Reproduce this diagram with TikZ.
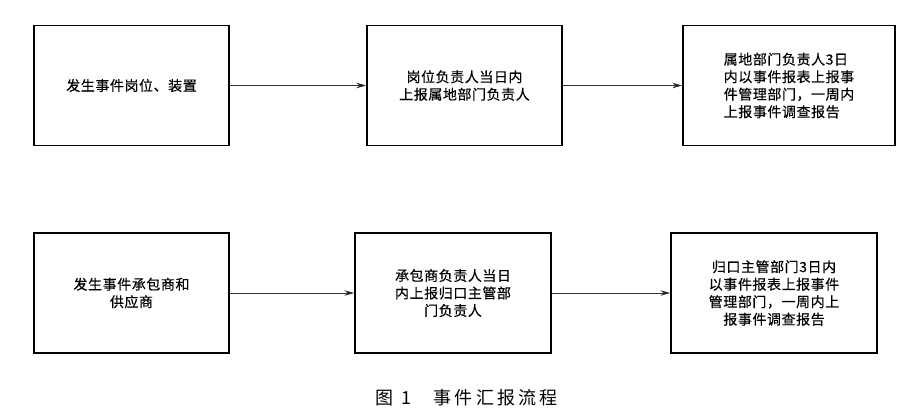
\documentclass[tikz,border=0pt]{standalone}
\usepackage{fontspec}
\setmainfont{Noto Sans CJK SC}
\newfontfamily\boxfont[LetterSpace=4,FakeBold=0.4]{Noto Sans CJK SC}
\newfontfamily\capfont[LetterSpace=18]{Noto Sans CJK SC}
\usetikzlibrary{arrows.meta}
\tikzset{
  flowbox/.style={draw=black, line width=1.4pt, rectangle, inner sep=0pt,
    minimum height=120pt, font=\boxfont\fontsize{14pt}{17.5pt}\selectfont},
  flowarrow/.style={draw=black!80, line width=0.8pt, -{Stealth[length=10pt,width=5.5pt,fill=black]}}
}
\begin{document}
\begin{tikzpicture}[x=1pt,y=-1pt]
\useasboundingbox (0,0) rectangle (905,420);
\node[flowbox, minimum width=195pt, align=center] (a1) at (131.5,85.5) {发生事件岗位、装置};
\node[flowbox, minimum width=195pt, align=center] (a2) at (464.5,85.5) {岗位负责人当日内\\上报属地部门负责人};
\node[flowbox, minimum width=212pt, align=left] (a3) at (789,85.5) {属地部门负责人3日\\内以事件报表上报事\\件管理部门，一周内\\上报事件调查报告};
\node[flowbox, minimum width=195pt, align=center] (b1) at (131.5,293) {发生事件承包商和\\供应商};
\node[flowbox, minimum width=196pt, align=center] (b2) at (453,293) {承包商负责人当日\\内上报归口主管部\\门负责人};
\node[flowbox, minimum width=206pt, align=center] (b3) at (774,293) {归口主管部门3日内\\以事件报表上报事件\\管理部门，一周内上\\报事件调查报告};
\draw[flowarrow] (a1) -- (a2);
\draw[flowarrow] (a2) -- (a3);
\draw[flowarrow] (b1) -- (b2);
\draw[flowarrow] (b2) -- (b3);
\node[font=\capfont\fontsize{18pt}{20pt}\selectfont, inner sep=0pt, anchor=west] (cap) at (375,397.5) {图\hspace{8.5pt}1\hspace{22pt}事件汇报流程};
\end{tikzpicture}
\end{document}
